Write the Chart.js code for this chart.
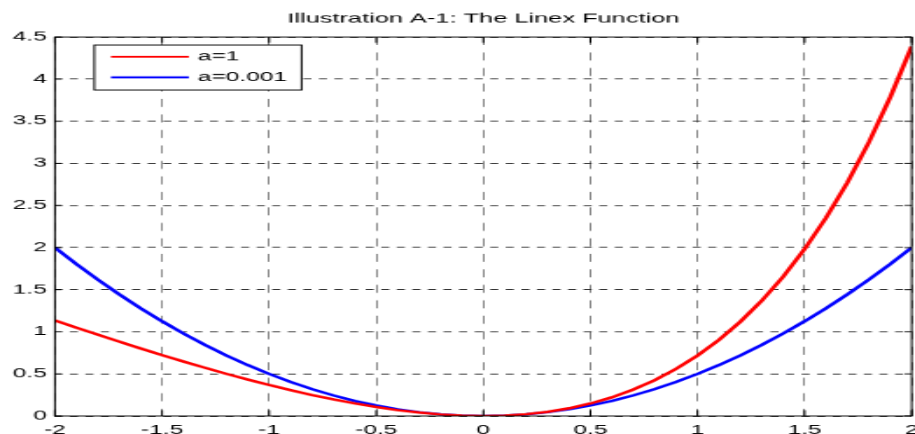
<!DOCTYPE html>
<html>
<head>
<meta charset="utf-8">
<script src="https://cdn.jsdelivr.net/npm/chart.js@4.4.1/dist/chart.umd.min.js"></script>
<style>
  html, body { margin: 0; padding: 0; background: #fff; overflow: hidden; }
  /* the reference figure is stretched sideways, so the whole chart is too */
  #wrap { width: 523px; height: 482px; transform: scale(1.7495, 0.9004); transform-origin: 0 0; }
</style>
</head>
<body>
<div id="wrap"><canvas id="linex"></canvas></div>
<script>
const xValues = [-2, -1.9, -1.8, -1.7, -1.6, -1.5, -1.4, -1.3, -1.2, -1.1, -1,
  -0.9, -0.8, -0.7, -0.6, -0.5, -0.4, -0.3, -0.2, -0.1, 0,
  0.1, 0.2, 0.3, 0.4, 0.5, 0.6, 0.7, 0.8, 0.9, 1,
  1.1, 1.2, 1.3, 1.4, 1.5, 1.6, 1.7, 1.8, 1.9, 2];

// a = 1
const seriesA1 = [1.135, 1.050, 0.965, 0.883, 0.802, 0.723, 0.647, 0.573, 0.501, 0.433, 0.368,
  0.307, 0.249, 0.197, 0.149, 0.107, 0.070, 0.041, 0.019, 0.005, 0,
  0.005, 0.021, 0.050, 0.092, 0.149, 0.222, 0.314, 0.426, 0.560, 0.718,
  0.904, 1.120, 1.369, 1.655, 1.982, 2.353, 2.774, 3.250, 3.786, 4.389];

// a = 0.001
const seriesA0001 = [2, 1.805, 1.62, 1.445, 1.28, 1.125, 0.98, 0.845, 0.72, 0.605, 0.5,
  0.405, 0.32, 0.245, 0.18, 0.125, 0.08, 0.045, 0.02, 0.005, 0,
  0.005, 0.02, 0.045, 0.08, 0.125, 0.18, 0.245, 0.32, 0.405, 0.5,
  0.605, 0.72, 0.845, 0.98, 1.125, 1.28, 1.445, 1.62, 1.805, 2];

const seriesLabels = ['a=1', 'a=0.001'];
const seriesColors = ['#ff0000', '#0000ff'];
const titleText = 'Illustration A-1: The Linex Function';

const FONT = "'Liberation Sans', Arial, Helvetica, sans-serif";

function toPoints(ys) {
  return xValues.map((x, i) => ({ x: x, y: ys[i] }));
}

// Box round the axes with short inward ticks, like MATLAB draws it
const framePlugin = {
  id: 'frame',
  afterDatasetsDraw(chart) {
    const { ctx, chartArea: a, scales: { x, y } } = chart;
    ctx.save();
    ctx.strokeStyle = '#000';
    ctx.lineWidth = 1;
    ctx.setLineDash([]);
    ctx.strokeRect(a.left, a.top, a.right - a.left, a.bottom - a.top);
    ctx.beginPath();
    x.ticks.forEach(t => {
      const px = x.getPixelForValue(t.value);
      ctx.moveTo(px, a.bottom); ctx.lineTo(px, a.bottom - 6.5);
      ctx.moveTo(px, a.top); ctx.lineTo(px, a.top + 6.5);
    });
    y.ticks.forEach(t => {
      const py = y.getPixelForValue(t.value);
      ctx.moveTo(a.left, py); ctx.lineTo(a.left + 4, py);
      ctx.moveTo(a.right, py); ctx.lineTo(a.right - 4, py);
    });
    ctx.stroke();
    ctx.restore();
  }
};

// Legend box in the upper left corner of the plot
const boxLegendPlugin = {
  id: 'boxLegend',
  afterDraw(chart) {
    const { ctx, chartArea: a } = chart;
    const left = a.left + 22.5, top = a.top + 8.9, w = 118.5, h = 50;
    const rows = [13, 35.8];
    ctx.save();
    ctx.fillStyle = '#fff';
    ctx.fillRect(left, top, w, h);
    ctx.strokeStyle = '#000';
    ctx.lineWidth = 1;
    ctx.strokeRect(left, top, w, h);
    ctx.font = '14px ' + FONT;
    ctx.textBaseline = 'middle';
    ctx.textAlign = 'left';
    chart.data.datasets.forEach((ds, i) => {
      const yy = top + rows[i];
      ctx.strokeStyle = ds.borderColor;
      ctx.lineWidth = 2.2;
      ctx.beginPath();
      ctx.moveTo(left + 9.5, yy);
      ctx.lineTo(left + 54, yy);
      ctx.stroke();
      ctx.fillStyle = '#000';
      ctx.fillText(ds.label, left + 59.2, yy + 0.5);
    });
    ctx.restore();
  }
};

new Chart(document.getElementById('linex'), {
  type: 'line',
  data: {
    datasets: [
      { label: seriesLabels[0], data: toPoints(seriesA1), borderColor: seriesColors[0], borderWidth: 2.7, pointRadius: 0, tension: 0 },
      { label: seriesLabels[1], data: toPoints(seriesA0001), borderColor: seriesColors[1], borderWidth: 2.7, pointRadius: 0, tension: 0 }
    ]
  },
  options: {
    responsive: true,
    maintainAspectRatio: false,
    animation: false,
    layout: { padding: { left: 0, right: 1.9, top: 0, bottom: 0 } },
    plugins: {
      legend: { display: false },
      tooltip: { enabled: false },
      title: {
        display: true,
        text: titleText,
        fullSize: false,
        color: '#000',
        font: { family: FONT, size: 14.5, weight: 'normal', lineHeight: 1.2 },
        padding: { top: 12, bottom: 11.7 }
      }
    },
    scales: {
      x: {
        type: 'linear',
        min: -2,
        max: 2,
        grid: { color: '#555', lineWidth: 0.7, drawTicks: false },
        border: { display: false, dash: [8.9, 8.3] },
        ticks: {
          stepSize: 0.5,
          padding: 8,
          color: '#000',
          maxRotation: 0,
          font: { family: FONT, size: 14 },
          callback: v => String(v)
        },
        afterFit(scale) {
          scale.height = 20;
          scale.paddingLeft = 0;
          scale.paddingRight = 0;
        }
      },
      y: {
        min: 0,
        max: 4.5,
        grid: { color: '#333', lineWidth: 1, drawTicks: false },
        border: { display: false, dash: [4.6, 4.3] },
        ticks: {
          stepSize: 0.5,
          padding: 4.7,
          color: '#000',
          font: { family: FONT, size: 14 },
          callback: v => String(v)
        },
        afterFit(scale) {
          scale.width = 31.4;
          scale.paddingTop = 0;
          scale.paddingBottom = 0;
        }
      }
    }
  },
  plugins: [framePlugin, boxLegendPlugin]
});
</script>
</body>
</html>
